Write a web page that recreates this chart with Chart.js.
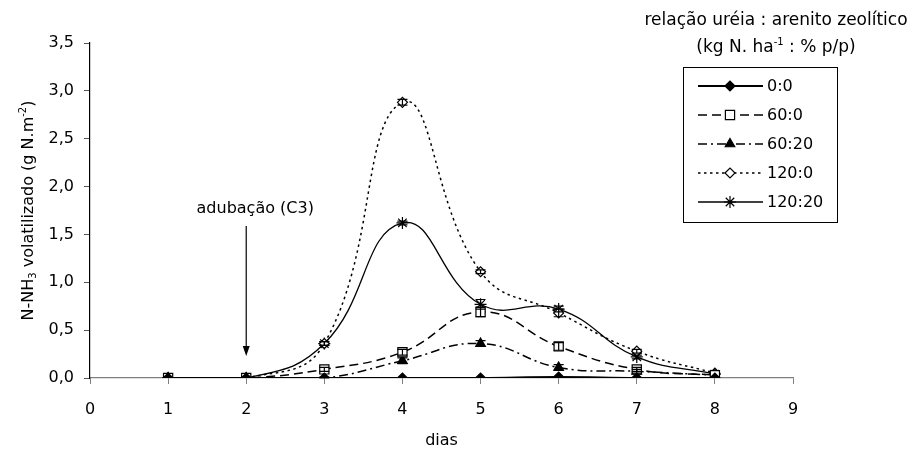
<!DOCTYPE html>
<html><head><meta charset="utf-8">
<script src="https://cdn.jsdelivr.net/npm/chart.js@4/dist/chart.umd.min.js"></script>
<style>html,body{margin:0;padding:0;background:#fff}#wrap{width:912px;height:450px;position:relative}</style>
</head><body><div id="wrap"><canvas id="c"></canvas></div>
<script>
// ---- data ----
const days = [1, 2, 3, 4, 5, 6, 7, 8];
const seriesLabels = ['0:0', '60:0', '60:20', '120:0', '120:20'];
const s0_0   = [0.00, 0.00, 0.00, 0.00, 0.00, 0.01, 0.00, 0.00];
const s60_0  = [0.00, 0.00, 0.09, 0.27, 0.69, 0.33, 0.09, 0.03];
const s60_20 = [0.00, 0.00, 0.00, 0.18, 0.36, 0.11, 0.07, 0.03];
const s120_0 = [0.00, 0.00, 0.36, 2.88, 1.11, 0.68, 0.28, 0.05];
const s120_20= [0.00, 0.00, 0.36, 1.62, 0.77, 0.72, 0.22, 0.04];
const err60_0  = [0, 0, 0.02, 0.03, 0.05, 0.04, 0.02, 0];
const err60_20 = [0, 0, 0.01, 0.03, 0.03, 0.03, 0.02, 0];
const err120_0 = [0, 0, 0.02, 0.03, 0.02, 0.04, 0.02, 0];
const err120_20= [0, 0, 0.02, 0.02, 0.05, 0.03, 0.02, 0];
const xTicks = [0, 1, 2, 3, 4, 5, 6, 7, 8, 9];
const yTicks = [0, 0.5, 1.0, 1.5, 2.0, 2.5, 3.0, 3.5];
const xTitle = 'dias';
const legendTitle1 = 'relação uréia : arenito zeolítico';
const annotationText = 'adubação (C3)';
const annotationDay = 2;

const FONT = '"DejaVu Sans", sans-serif';
const pts = arr => days.map((d, i) => ({x: d, y: arr[i]}));

const styles = [
  {pointStyle: 'rectRot', radius: 5, bg: '#000', dash: [], bw: 2},
  {pointStyle: 'rect', radius: 6.5, bg: '#fff', dash: [9, 5], bw: 1.5},
  {pointStyle: 'triangle', radius: 5.5, bg: '#000', dash: [9, 4, 2, 4], bw: 1.5},
  {pointStyle: 'rectRot', radius: 5, bg: '#fff', dash: [2.5, 3.5], bw: 1.5},
  {pointStyle: 'star', radius: 6, bg: '#000', dash: [], bw: 1.3}
];
const seriesData = [s0_0, s60_0, s60_20, s120_0, s120_20];
const seriesErr = [null, err60_0, err60_20, err120_0, err120_20];

const datasets = seriesData.map((arr, i) => ({
  label: seriesLabels[i],
  data: pts(arr),
  errors: seriesErr[i],
  borderColor: '#000',
  backgroundColor: styles[i].bg,
  borderWidth: styles[i].bw,
  borderDash: styles[i].dash,
  tension: 0.45,
  pointStyle: styles[i].pointStyle,
  pointRadius: styles[i].radius,
  pointBackgroundColor: styles[i].bg,
  pointBorderColor: '#000',
  pointBorderWidth: 1.2,
  fill: false
}));

const fmt = v => v.toFixed(1).replace('.', ',');

const errorBars = {
  id: 'errorBars',
  afterDatasetsDraw(chart) {
    const ctx = chart.ctx, ys = chart.scales.y, xs = chart.scales.x;
    ctx.save();
    ctx.strokeStyle = '#000'; ctx.lineWidth = 1.2; ctx.setLineDash([]);
    chart.data.datasets.forEach(ds => {
      if (!ds.errors) return;
      ds.data.forEach((p, i) => {
        const e = ds.errors[i];
        if (!e) return;
        const x = xs.getPixelForValue(p.x);
        const y1 = ys.getPixelForValue(p.y + e), y2 = ys.getPixelForValue(Math.max(p.y - e, 0));
        ctx.beginPath();
        ctx.moveTo(x, y1); ctx.lineTo(x, y2);
        ctx.moveTo(x - 5, y1); ctx.lineTo(x + 5, y1);
        ctx.moveTo(x - 5, y2); ctx.lineTo(x + 5, y2);
        ctx.stroke();
      });
    });
    ctx.restore();
  }
};

const extras = {
  id: 'extras',
  afterDraw(chart) {
    const ctx = chart.ctx, xs = chart.scales.x, ys = chart.scales.y, ca = chart.chartArea;
    ctx.save();
    ctx.fillStyle = '#000'; ctx.strokeStyle = '#000';
    // annotation
    const ax = xs.getPixelForValue(annotationDay);
    ctx.font = '16px ' + FONT;
    ctx.textAlign = 'center'; ctx.textBaseline = 'middle';
    ctx.fillText(annotationText, ax + 9, 209);
    ctx.lineWidth = 1.2; ctx.setLineDash([]);
    ctx.beginPath(); ctx.moveTo(ax, 226); ctx.lineTo(ax, 350); ctx.stroke();
    ctx.beginPath(); ctx.moveTo(ax - 3.5, 346); ctx.lineTo(ax, 356); ctx.lineTo(ax + 3.5, 346); ctx.closePath(); ctx.fill();

    // y axis title with sub/superscripts
    ctx.save();
    ctx.translate(29, (ca.top + ca.bottom) / 2);
    ctx.rotate(-Math.PI / 2);
    const big = '16px ' + FONT, small = '10px ' + FONT;
    const parts = [['N-NH', big, 0], ['3', small, 4], [' volatilizado (g N.m', big, 0], ['-2', small, -6], [')', big, 0]];
    let total = 0;
    parts.forEach(p => { ctx.font = p[1]; total += ctx.measureText(p[0]).width; });
    let x = -total / 2;
    ctx.textAlign = 'left'; ctx.textBaseline = 'middle';
    parts.forEach(p => { ctx.font = p[1]; ctx.fillText(p[0], x, p[2]); x += ctx.measureText(p[0]).width; });
    ctx.restore();

    // legend title
    ctx.font = '17px ' + FONT; ctx.textAlign = 'center'; ctx.textBaseline = 'middle';
    ctx.fillText(legendTitle1, 776, 21);
    const l2 = [['(kg N. ha', '17px ' + FONT, 0], ['-1', '10px ' + FONT, -6], [' : % p/p)', '17px ' + FONT, 0]];
    let w2 = 0; l2.forEach(p => { ctx.font = p[1]; w2 += ctx.measureText(p[0]).width; });
    let x2 = 776 - w2 / 2; ctx.textAlign = 'left';
    l2.forEach(p => { ctx.font = p[1]; ctx.fillText(p[0], x2, 48 + p[2]); x2 += ctx.measureText(p[0]).width; });

    // legend box
    const bx = 683, by = 67, bw = 154, bh = 155;
    ctx.lineWidth = 1; ctx.strokeRect(bx + 0.5, by + 0.5, bw, bh);
    chart.data.datasets.forEach((ds, i) => {
      const y = 86 + i * 29;
      ctx.save();
      ctx.lineWidth = ds.borderWidth; ctx.setLineDash(ds.borderDash);
      ctx.beginPath(); ctx.moveTo(698, y); ctx.lineTo(763, y); ctx.stroke();
      ctx.setLineDash([]);
      ctx.fillStyle = ds.pointBackgroundColor; ctx.strokeStyle = '#000'; ctx.lineWidth = ds.pointBorderWidth;
      Chart.helpers.drawPoint(ctx, {pointStyle: ds.pointStyle, radius: ds.pointRadius, rotation: 0, borderWidth: ds.pointBorderWidth}, 730, y);
      ctx.restore();
      ctx.font = '16px ' + FONT; ctx.fillStyle = '#000'; ctx.textAlign = 'left'; ctx.textBaseline = 'middle';
      ctx.fillText(ds.label, 767, y + 1);
    });
    ctx.restore();
  }
};

new Chart(document.getElementById('c'), {
  type: 'line',
  data: {datasets},
  options: {
    responsive: true,
    maintainAspectRatio: false,
    animation: false,
    layout: {padding: {left: 0, right: 119, top: 43, bottom: 0}},
    plugins: {legend: {display: false}, tooltip: {enabled: false}},
    scales: {
      x: {
        type: 'linear', min: 0, max: 9,
        afterBuildTicks: s => { s.ticks = xTicks.map(v => ({value: v})); },
        afterFit: s => { s.height = 72; },
        border: {color: '#808080', width: 1.2},
        grid: {drawOnChartArea: false, tickLength: 6, color: '#808080'},
        ticks: {color: '#000', font: {family: FONT, size: 16}, padding: 16, callback: v => String(v)},
        title: {display: true, text: xTitle, color: '#000', font: {family: FONT, size: 16}, padding: {top: 0, bottom: 0}}
      },
      y: {
        type: 'linear', min: 0, max: 3.5,
        afterBuildTicks: s => { s.ticks = yTicks.map(v => ({value: v})); },
        afterFit: s => { s.width = 90; },
        border: {color: '#000', width: 1.2},
        grid: {drawOnChartArea: false, tickLength: 6, color: '#555'},
        ticks: {color: '#000', font: {family: FONT, size: 16}, padding: 10, callback: v => fmt(v)}
      }
    }
  },
  plugins: [errorBars, extras]
});
</script>
</body></html>
